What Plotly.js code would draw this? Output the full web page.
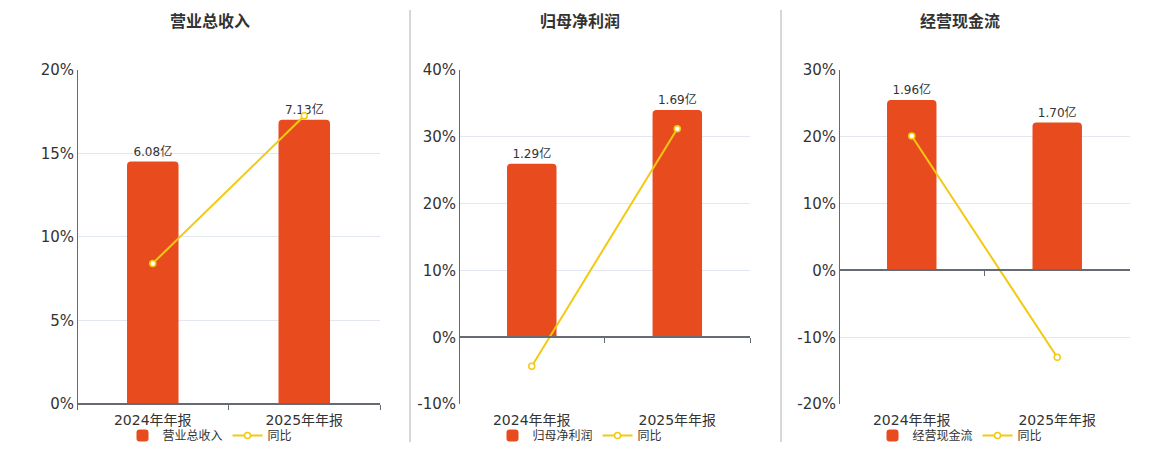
<!DOCTYPE html>
<html>
<head>
<meta charset="utf-8">
<script src="https://cdn.plot.ly/plotly-3.0.1.min.js"></script>
<style>html,body{margin:0;padding:0;background:#fff;}#chart{width:1160px;height:450px;}</style>
</head>
<body>
<div id="chart"></div>
<script>
// ---- data ----
var categories = ['2024年年报', '2025年年报'];
var titles = ['营业总收入', '归母净利润', '经营现金流'];
var revenue = [6.08, 7.13];      // 亿
var netProfit = [1.29, 1.69];    // 亿
var cashFlow = [1.96, 1.70];     // 亿
var revenueYoY = [8.42, 17.25];  // %
var netProfitYoY = [-4.33, 31.2];
var cashFlowYoY = [20.1, -13.0];
var yTicks1 = [0, 5, 10, 15, 20];
var yTicks2 = [-10, 0, 10, 20, 30, 40];
var yTicks3 = [-20, -10, 0, 10, 20, 30];

var barSeries = [revenue, netProfit, cashFlow];
var lineSeries = [revenueYoY, netProfitYoY, cashFlowYoY];
var tickSets = [yTicks1, yTicks2, yTicks3];
// hidden bar axis ranges (aligned to percent axis zero)
var barRanges = [[0, 8.38], [-0.497, 1.988], [-1.537, 2.306]];

var BAR = '#E84C1E', LINE = '#F3C912', TXT = '#333333', AX = '#666a73', GRID = '#e3e7ef';
var FONT = '"DejaVu Sans", "Noto Sans CJK SC", sans-serif';

var xDomains = [[0.0664, 0.3276], [0.3957, 0.6466], [0.7233, 0.9741]];
var yDomain = [0.1, 0.8444];
var centers = [210/1160, 580/1160, 960/1160];

var data = [];
var layout = {
  width: 1160, height: 450,
  margin: {l: 0, r: 0, t: 0, b: 0},
  paper_bgcolor: '#fff', plot_bgcolor: '#fff',
  font: {family: FONT, color: TXT, size: 12},
  bargap: 0.66,
  barcornerradius: 4,
  hovermode: false,
  annotations: [],
  shapes: [
    {type: 'line', xref: 'paper', yref: 'paper', x0: 410/1160, x1: 410/1160, y0: 1-443/450, y1: 1-10/450, line: {color: '#b0b0b0', width: 1}},
    {type: 'line', xref: 'paper', yref: 'paper', x0: 781/1160, x1: 781/1160, y0: 1-443/450, y1: 1-10/450, line: {color: '#b0b0b0', width: 1}}
  ]
};

for (var i = 0; i < 3; i++) {
  var n = i + 1, m = i + 4;
  var ticks = tickSets[i];
  var ymin = ticks[0], ymax = ticks[ticks.length - 1];
  var zeroPos = yDomain[0] + (0 - ymin) / (ymax - ymin) * (yDomain[1] - yDomain[0]);
  var legName = i === 0 ? 'legend' : 'legend' + n;

  // bars on base subplot (hidden value axis)
  data.push({
    type: 'bar', x: categories, y: barSeries[i],
    xaxis: 'x' + n, yaxis: 'y' + n,
    name: titles[i], legend: legName,
    marker: {color: BAR},
    text: barSeries[i].map(function (v) { return v.toFixed(2) + '亿'; }),
    textposition: 'outside', cliponaxis: false,
    textfont: {size: 12, color: TXT, family: FONT}
  });
  // YoY line on overlay subplot (percent axis), drawn on top
  data.push({
    type: 'scatter', mode: 'lines+markers', x: categories, y: lineSeries[i],
    xaxis: 'x' + m, yaxis: 'y' + m,
    name: '同比', legend: legName,
    line: {color: LINE, width: 2},
    marker: {symbol: 'circle', size: 6, color: '#ffffff', line: {color: LINE, width: 1.5}},
    cliponaxis: false
  });

  layout['xaxis' + n] = {
    type: 'category', domain: xDomains[i], anchor: 'y' + n,
    categoryorder: 'array', categoryarray: categories, range: [-0.5, 1.5],
    showline: false, ticks: '', showgrid: false, zeroline: false,
    ticklabelstandoff: 6,
    tickfont: {size: 14, color: TXT, family: FONT}
  };
  layout['yaxis' + n] = {
    domain: yDomain, anchor: 'x' + n, range: barRanges[i],
    showticklabels: false, showline: false, showgrid: false, zeroline: false, ticks: ''
  };
  layout['xaxis' + m] = {
    type: 'category', overlaying: 'x' + n, anchor: 'free', position: zeroPos,
    categoryorder: 'array', categoryarray: categories, range: [-0.5, 1.5],
    showline: true, linecolor: AX, linewidth: 2,
    ticks: 'outside', tickson: 'boundaries', ticklen: 5, tickcolor: AX, tickwidth: 1,
    showticklabels: false, showgrid: false, zeroline: false
  };
  layout['yaxis' + m] = {
    overlaying: 'y' + n, anchor: 'free', position: xDomains[i][0], side: 'left',
    range: [ymin, ymax],
    tickvals: ticks, ticktext: ticks.map(function (t) { return t + '%'; }),
    showline: true, linecolor: AX, linewidth: 1, ticks: '',
    showgrid: true, gridcolor: GRID, gridwidth: 1, zeroline: false,
    tickfont: {size: 15, color: TXT, family: FONT}
  };
  layout[legName] = {
    orientation: 'h', x: centers[i], xanchor: 'center', y: 1 - 436/450, yanchor: 'middle',
    font: {size: 12, color: TXT, family: FONT}, bgcolor: 'rgba(0,0,0,0)',
    itemwidth: 30, tracegroupgap: 0
  };
  layout.annotations.push({
    xref: 'paper', yref: 'paper', x: centers[i], y: 1 - 22/450,
    xanchor: 'center', yanchor: 'middle', showarrow: false,
    text: '<b>' + titles[i] + '</b>',
    font: {size: 16, color: TXT, family: FONT}
  });
}

Plotly.newPlot('chart', data, layout, {displayModeBar: false, staticPlot: true});
</script>
</body>
</html>
